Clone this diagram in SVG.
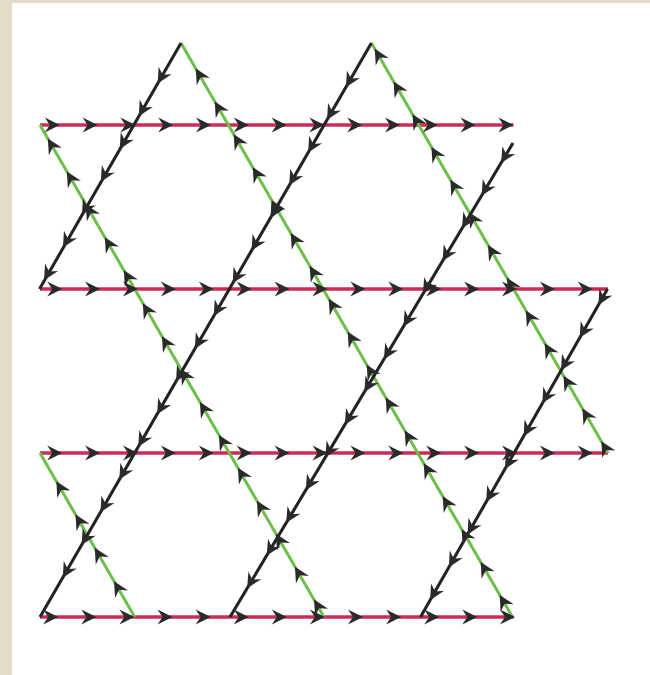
<svg xmlns="http://www.w3.org/2000/svg" width="650" height="675" viewBox="0 0 650 675">
<style>
.red{stroke:#cc2c54;stroke-width:3.6;fill:none}
.grn{stroke:#6cbf4a;stroke-width:3;fill:none}
.blk{stroke:#232323;stroke-width:3.1;fill:none}
.arw{fill:none;stroke:none;marker-start:url(#ar);marker-mid:url(#ar);marker-end:url(#ar)}
</style>
<defs>
<marker id="ar" viewBox="-16 -9 18 18" refX="0" refY="0" markerWidth="18" markerHeight="18" markerUnits="userSpaceOnUse" orient="auto">
<path d="M0.5,0 L-14.5,-7.5 L-9.5,0 L-14.5,7.5 Z" fill="#2a2a2a"/>
</marker>
</defs>
<rect x="0" y="0" width="650" height="675" fill="#e4dac8"/>
<rect x="12" y="3" width="638" height="672" fill="#ffffff"/>
<g id="red-lines">
<path class="red" d="M40 125 H513.5"/>
<path class="red" d="M40 289 H608"/>
<path class="red" d="M40 453 H608"/>
<path class="red" d="M40 617 H513.5"/>
</g>
<g id="green-lines">
<path class="grn" d="M40 453 L134.7 617"/>
<path class="grn" d="M40 125 L324 617"/>
<path class="grn" d="M181 43 L512.4 617"/>
<path class="grn" d="M371.4 43 L608.1 453"/>
</g>
<g id="black-lines">
<path class="blk" d="M181 43 L39.5 289"/>
<path class="blk" d="M371.4 43 L40 617"/>
<path class="blk" d="M513 143 L230 617"/>
<path class="blk" d="M607.5 289 L420.5 617"/>
</g>
<g id="arrows">
<path class="arw" d="M59.3 125 L97.1 125 L134.9 125 L172.7 125 L210.5 125 L248.3 125 L286.1 125 L323.9 125 L361.7 125 L399.5 125 L437.3 125 L475.1 125 L512.9 125"/>
<path class="arw" d="M61.7 289 L99.6 289 L137.5 289 L175.4 289 L213.3 289 L251.2 289 L289.1 289 L327 289 L364.9 289 L402.8 289 L440.7 289 L478.6 289 L516.5 289 L554.4 289 L592.3 289"/>
<path class="arw" d="M61.7 453 L99.6 453 L137.5 453 L175.4 453 L213.3 453 L251.2 453 L289.1 453 L327 453 L364.9 453 L402.8 453 L440.7 453 L478.6 453 L516.5 453 L554.4 453 L592.3 453"/>
<path class="arw" d="M57.7 617 L95.8 617 L133.9 617 L172 617 L210.1 617 L248.2 617 L286.3 617 L324.4 617 L362.5 617 L400.6 617 L438.7 617 L476.8 617 L514.5 617"/>
<path class="arw" d="M157.9 83 L139 115.8 L120 148.6 L101.1 181.4 L82.2 214.2 L63.2 247 L44.3 279.8"/>
<path class="arw" d="M346.2 86.7 L327.3 119.4 L308.4 152.1 L289.5 184.8 L270.7 217.5 L251.8 250.2 L232.9 282.9 L214 315.6 L195.1 348.3 L176.3 381 L157.4 413.7 L138.5 446.4 L119.6 479.1 L100.7 511.8 L81.9 544.5 L63 577.2"/>
<path class="arw" d="M501.4 162.5 L481.8 195.2 L462.3 227.9 L442.8 260.6 L423.2 293.4 L403.7 326.1 L384.2 358.8 L364.6 391.5 L345.1 424.2 L325.6 456.9 L306 489.7 L286.5 522.4 L267 555.1 L247.4 587.8"/>
<path class="arw" d="M598.7 304.5 L580 337.3 L561.3 370.1 L542.6 402.9 L523.9 435.7 L505.2 468.5 L486.5 501.3 L467.8 534.1 L449.1 566.9 L430.4 599.7"/>
<path class="arw" d="M114.3 581.6 L95 548.3 L75.8 515 L56.6 481.7"/>
<path class="arw" d="M314.3 600 L295.2 567.1 L276.2 534.2 L257.2 501.2 L238.2 468.3 L219.2 435.4 L200.2 402.4 L181.2 369.5 L162.2 336.6 L143.1 303.7 L124.1 270.7 L105.1 237.8 L86.1 204.9 L67.1 171.9 L48.1 139"/>
<path class="arw" d="M499.9 595.4 L480.9 562.5 L461.9 529.6 L443 496.7 L424 463.8 L405 430.9 L386 398 L367 365.1 L348 332.2 L329 299.3 L310 266.4 L291 233.5 L272 200.6 L253 167.7 L234 134.8 L215 101.9 L196 69"/>
<path class="arw" d="M601.6 441.7 L582.7 409 L563.8 376.3 L545 343.6 L526.1 310.9 L507.2 278.2 L488.3 245.5 L469.4 212.8 L450.6 180.1 L431.7 147.4 L412.8 114.7 L393.9 82 L375 49.3"/>
</g>
</svg>
